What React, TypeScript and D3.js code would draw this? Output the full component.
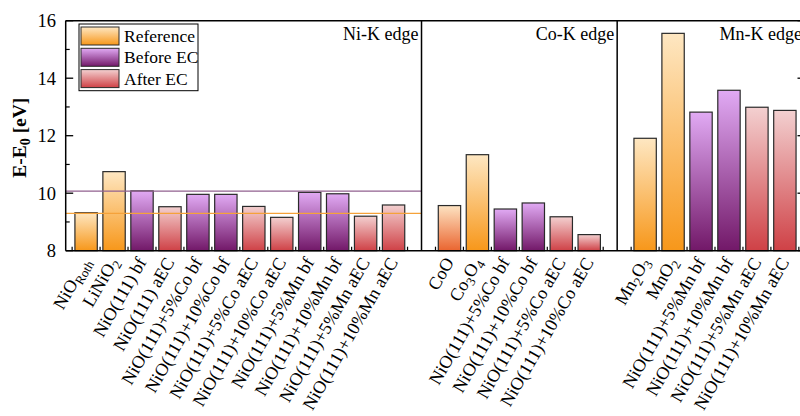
import React from 'react'
import * as d3 from 'd3'

// labels: text in {} is a subscript
const niLabels = [
  'NiO{Roth}', 'LiNiO{2}', 'NiO(111) bf', 'NiO(111) aEC',
  'NiO(111)+5%Co bf', 'NiO(111)+10%Co bf', 'NiO(111)+5%Co aEC', 'NiO(111)+10%Co aEC',
  'NiO(111)+5%Mn bf', 'NiO(111)+10%Mn bf', 'NiO(111)+5%Mn aEC', 'NiO(111)+10%Mn aEC',
]
const niValues = [9.32, 10.75, 10.08, 9.53, 9.96, 9.96, 9.54, 9.16, 10.03, 9.98, 9.2, 9.59]
const niKinds = ['ref', 'ref', 'bf', 'aec', 'bf', 'bf', 'aec', 'aec', 'bf', 'bf', 'aec', 'aec']

const coLabels = ['CoO', 'Co{3}O{4}', 'NiO(111)+5%Co bf', 'NiO(111)+10%Co bf', 'NiO(111)+5%Co aEC', 'NiO(111)+10%Co aEC']
const coValues = [9.57, 11.34, 9.45, 9.66, 9.18, 8.56]
const coKinds = ['ref2', 'ref', 'bf', 'bf', 'aec', 'aec']

const mnLabels = ['Mn{2}O{3}', 'MnO{2}', 'NiO(111)+5%Mn bf', 'NiO(111)+10%Mn bf', 'NiO(111)+5%Mn aEC', 'NiO(111)+10%Mn aEC']
const mnValues = [11.91, 15.56, 12.82, 13.58, 12.99, 12.88]
const mnKinds = ['ref', 'ref', 'bf', 'bf', 'aec', 'aec']

// reference levels in the Ni panel
const niLineValues = [10.07, 9.3]
const niLineKinds = ['bf', 'ref']

const panelNames = ['Ni-K edge', 'Co-K edge', 'Mn-K edge']
const legendNames = ['Reference', 'Before EC', 'After EC']
const legendKinds = ['ref', 'bf', 'aec']
const yTicks = [8, 10, 12, 14, 16]

const gradients: Record<string, [string, string]> = {
  ref: ['#fee7c2', '#f7971a'],
  ref2: ['#fde3c2', '#ea6530'],
  bf: ['#e1aaf4', '#721868'],
  aec: ['#f3d0d0', '#cf4146'],
}
const lineColors: Record<string, string> = { bf: '#91608f', ref: '#f5a23a' }

const FONT = '"Liberation Serif", "Times New Roman", serif'

function Label({ s, sub }: { s: string; sub: number }) {
  const parts = s.split(/(\{[^}]*\})/).filter(p => p !== '')
  return (
    <>
      {parts.map((p, i) =>
        p.startsWith('{') ? (
          <tspan key={i} dy={sub} fontSize="0.72em">{p.slice(1, -1)}</tspan>
        ) : (
          <tspan key={i} dy={i > 0 && parts[i - 1].startsWith('{') ? -sub : 0}>{p}</tspan>
        )
      )}
    </>
  )
}

export default function App() {
  const width = 800
  const height = 416
  const x = d3.scaleLinear().domain([0.27, 26.72]).range([65.7, 805])
  const y = d3.scaleLinear().domain([8, 16]).range([250.7, 20.7])
  const bw = (x(1) - x(0)) * 0.8

  const bars = [
    ...niLabels.map((l, i) => ({ label: l, value: niValues[i], kind: niKinds[i], slot: 1 + i })),
    ...coLabels.map((l, i) => ({ label: l, value: coValues[i], kind: coKinds[i], slot: 14 + i })),
    ...mnLabels.map((l, i) => ({ label: l, value: mnValues[i], kind: mnKinds[i], slot: 21 + i })),
  ]
  const dividers = [13, 20]
  const panelEnds = [13, 20, 26.72]
  const bottomTicks = d3.range(0.5, 26.6, 1)
  const minorY = d3.range(9, 16, 2)

  return (
    <svg width={width} height={height} style={{ position: 'absolute', left: 0, top: 0, background: '#fff' }} fontFamily={FONT}>
      <defs>
        {Object.entries(gradients).map(([k, [c0, c1]]) => (
          <linearGradient key={k} id={`g-${k}`} x1="0" y1="0" x2="0" y2="1">
            <stop offset="0%" stopColor={c0} />
            <stop offset="100%" stopColor={c1} />
          </linearGradient>
        ))}
      </defs>

      {/* bars */}
      {bars.map((b, i) => (
        <rect key={i} x={x(b.slot) - bw / 2} y={y(b.value)} width={bw} height={y(8) - y(b.value)}
          fill={`url(#g-${b.kind})`} stroke="#2a2a2a" strokeWidth={1.2} />
      ))}

      {/* Ni reference lines */}
      {niLineValues.map((v, i) => (
        <line key={i} x1={x.range()[0]} x2={x(13)} y1={y(v)} y2={y(v)}
          stroke={lineColors[niLineKinds[i]]} strokeWidth={1.3} />
      ))}

      {/* frame */}
      <line x1={x.range()[0]} x2={width} y1={y(16)} y2={y(16)} stroke="#000" strokeWidth={1.5} />
      <line x1={x.range()[0]} x2={width} y1={y(8)} y2={y(8)} stroke="#000" strokeWidth={1.5} />
      <line x1={x.range()[0]} x2={x.range()[0]} y1={y(16)} y2={y(8)} stroke="#000" strokeWidth={1.5} />
      <line x1={x.range()[1]} x2={x.range()[1]} y1={y(16)} y2={y(8)} stroke="#000" strokeWidth={1.5} />
      {dividers.map(d => (
        <line key={d} x1={x(d)} x2={x(d)} y1={y(16)} y2={y(8)} stroke="#000" strokeWidth={1.5} />
      ))}

      {/* y ticks */}
      {yTicks.map(t => (
        <g key={t}>
          <line x1={x.range()[0]} x2={x.range()[0] + 7.5} y1={y(t)} y2={y(t)} stroke="#000" strokeWidth={1.3} />
          <line x1={x.range()[1]} x2={x.range()[1] - 7.5} y1={y(t)} y2={y(t)} stroke="#000" strokeWidth={1.3} />
          <text x={56} y={y(t) + 6.5} textAnchor="end" fontSize={18.5}>{t}</text>
        </g>
      ))}
      {minorY.map(t => (
        <g key={t}>
          <line x1={x.range()[0]} x2={x.range()[0] + 4} y1={y(t)} y2={y(t)} stroke="#000" strokeWidth={1.2} />
          <line x1={x.range()[1]} x2={x.range()[1] - 4} y1={y(t)} y2={y(t)} stroke="#000" strokeWidth={1.2} />
        </g>
      ))}
      {bottomTicks.map(t => (
        <line key={t} x1={x(t)} x2={x(t)} y1={y(8)} y2={y(8) - 4} stroke="#000" strokeWidth={1.2} />
      ))}

      {/* y title */}
      <text transform={`translate(26,${(y(8) + y(16)) / 2 + 2}) rotate(-90)`} textAnchor="middle"
        fontSize={19.5} fontWeight="bold">
        E-E<tspan dy={4} fontSize={14}>0</tspan><tspan dy={-4}> [eV]</tspan>
      </text>

      {/* x labels */}
      {bars.map((b, i) => (
        <text key={i} transform={`translate(${x(b.slot) + 5},262) rotate(-60)`} textAnchor="end" fontSize={18}>
          <Label s={b.label} sub={4} />
        </text>
      ))}

      {/* panel titles */}
      {panelNames.map((p, i) => (
        <text key={p} x={x(panelEnds[i]) - 3} y={39.5} textAnchor="end" fontSize={18}>{p}</text>
      ))}

      {/* legend */}
      <rect x={79} y={24} width={119} height={66.7} fill="#fff" stroke="#000" strokeWidth={1} />
      {legendNames.map((n, i) => (
        <g key={n}>
          <rect x={81} y={27 + i * 21.3} width={38} height={18} fill={`url(#g-${legendKinds[i]})`} stroke="#2a2a2a" strokeWidth={1} />
          <text x={124} y={42 + i * 21.3} fontSize={17.5}>{n}</text>
        </g>
      ))}
    </svg>
  )
}
